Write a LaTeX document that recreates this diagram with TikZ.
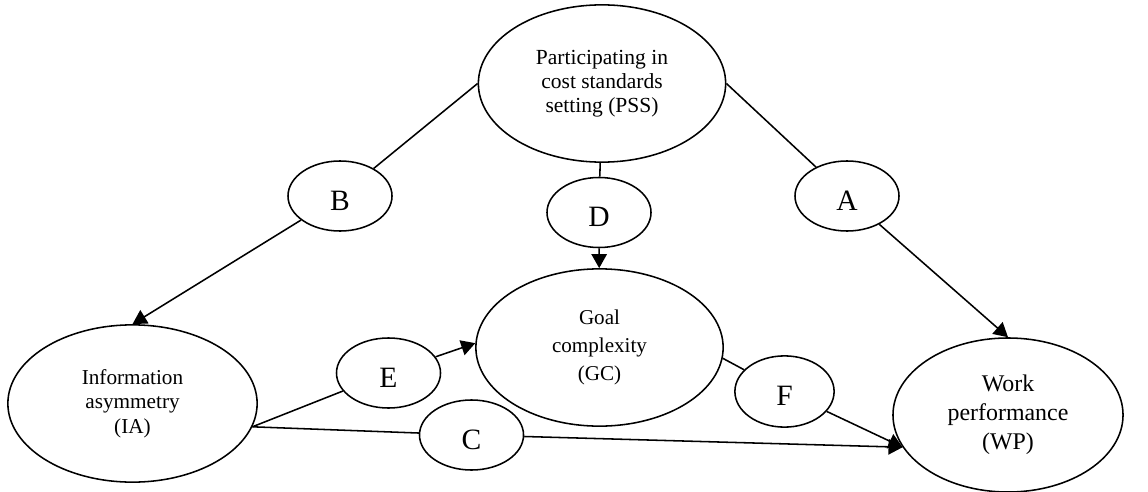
\documentclass[tikz,border=0pt]{standalone}
\usepackage{fontspec}
\setmainfont{Liberation Serif}
\usetikzlibrary{shapes.geometric,arrows.meta}

\begin{document}
\begin{tikzpicture}[x=0.025cm, y=-0.025cm,
  var/.style={draw, ellipse, line width=1.1pt, inner sep=0pt, align=center},
  rel/.style={draw, ellipse, line width=1.1pt, inner sep=0pt,
    minimum width=2.6cm, minimum height=1.75cm,
    font=\fontsize{21}{21}\selectfont, text height=20pt, text depth=0pt},
  link/.style={line width=1.1pt},
  arr/.style={link, -{Triangle[length=10pt,width=11pt]}}]
  \useasboundingbox (0,0) rectangle (1148,492);

  % Variabili
  \node[var, minimum width=6.18cm, minimum height=3.93cm,
    font=\fontsize{15.3}{17}\selectfont] (PSS) at (602,83.5)
    {Participating in\\cost standards\\setting (PSS)};
  \node[var, minimum width=6.18cm, minimum height=3.93cm,
    font=\fontsize{15}{20}\selectfont] (GC) at (599.5,347.5)
    {Goal\\complexity\\(GC)};
  \node[var, minimum width=6.23cm, minimum height=3.93cm,
    font=\fontsize{15.1}{17.5}\selectfont] (IA) at (132.5,403.5)
    {Information\\asymmetry\\(IA)};
  \node[var, minimum width=5.75cm, minimum height=3.85cm,
    font=\fontsize{17}{20.5}\selectfont] (WP) at (1008,415)
    {Work\\performance\\(WP)};

  % Relazioni
  \node[rel] (B) at (340,196) {B};
  \node[rel] (A) at (847,196) {A};
  \node[rel] (D) at (599,212.5) {D};
  \node[rel] (E) at (388.5,373) {E};
  \node[rel] (C) at (471.5,435) {C};
  \node[rel, minimum width=2.48cm, minimum height=1.78cm] (F) at (784.5,391.5) {F};

  % Archi
  \draw[link] (PSS.west) -- (B);
  \draw[arr] (B) -- (IA.north);
  \draw[link] (PSS.east) -- (A);
  \draw[arr] (A) -- (WP.north);
  \draw[link] (PSS) -- (D);
  \draw[arr] (D) -- (GC);
  \draw[link] (IA.-11) -- (E);
  \draw[arr] (E) -- (GC.178);
  \draw[link] (IA.-11) -- (C);
  \draw[arr] (C) -- (WP.197);
  \draw[link] (GC.-5) -- (F);
  \draw[arr] (F) -- (WP.197);
\end{tikzpicture}
\end{document}
